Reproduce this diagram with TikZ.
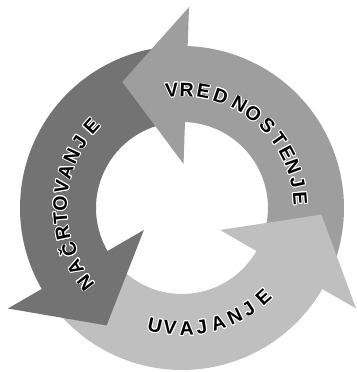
\documentclass[tikz,border=0pt]{standalone}
\usepackage{fontspec}
\setmainfont{Liberation Sans}
\usepackage[copies]{contour}
\contourlength{0.9pt}
\usetikzlibrary{calc}
\definecolor{darkarrow}{gray}{0.45}
\definecolor{midarrow}{gray}{0.62}
\definecolor{lightarrow}{gray}{0.75}
\tikzset{
  letter/.style={font=\fontsize{19.5}{19.5}\selectfont\bfseries, inner sep=0pt, text=black},
}

\begin{document}
\begin{tikzpicture}[x=1pt,y=1pt]
  \useasboundingbox (-182,-164) rectangle (174,208);

  % Shafts (each tail slips under the previous head)
  \foreach \col/\ta/\hb in {midarrow/-22/88, darkarrow/98/210, lightarrow/220/330}
    \fill[\col] (\ta:86pt) arc[start angle=\ta, end angle=\hb+1, radius=86pt]
      -- (\hb+1:162pt) arc[start angle=\hb+1, end angle=\ta, radius=162pt] -- cycle;

  % Heads
  \foreach \col/\hb in {midarrow/88, darkarrow/210, lightarrow/330}
    \fill[\col] (\hb:44pt) -- ($(\hb:124pt)+(\hb+90:64pt)$) -- (\hb:201pt) -- cycle;

  % Labels along the ring
  \foreach \ch/\ang [count=\i] in {V/94.9, R/87.7, E/79.5, D/70.9, N/60.9, O/53,
      S/43.8, T/35.2, E/27.6, N/20.4, J/12.7, E/4.6}
    \node[letter, rotate=\ang-90] (vr\i) at (\ang:118pt) {\contour{white}{\ch}};

  \foreach \ch/\ang [count=\i] in {N/217.7, A/209.1, Č/200.3, R/192, T/184.8, O/177.8,
      V/170, A/162.5, N/154.7, J/147.2, E/138}
    \node[letter, rotate=\ang-90] (na\i) at (\ang:121.5pt) {\contour{white}{\ch}};

  \foreach \ch/\ang [count=\i] in {U/257, V/264.3, A/272.2, J/279.4, A/287.5, N/296,
      J/303.5, E/312.5}
    \node[letter, rotate=\ang+90] (uv\i) at (\ang:121pt) {\contour{white}{\ch}};
\end{tikzpicture}
\end{document}
